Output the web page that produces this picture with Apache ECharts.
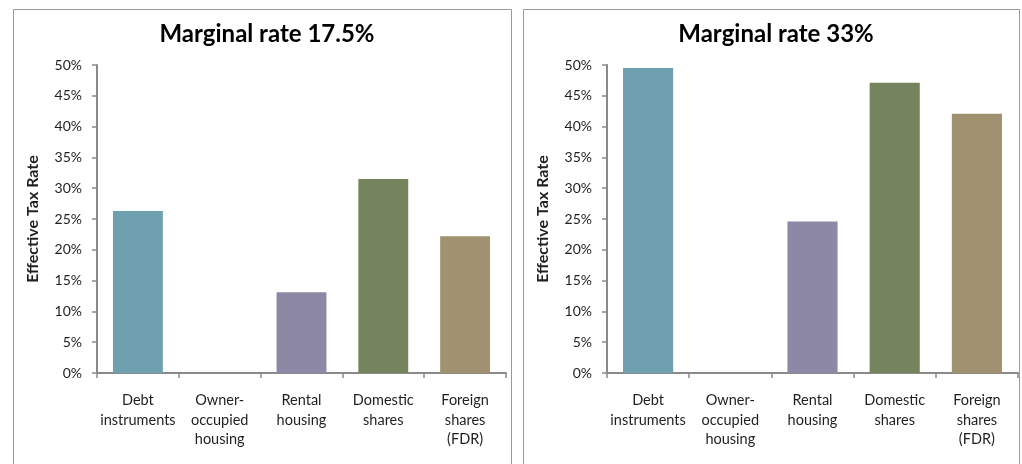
<!DOCTYPE html>
<html>
<head>
<meta charset="utf-8">
<script src="https://cdn.jsdelivr.net/npm/echarts@6/dist/echarts.min.js"></script>
<style>
  html, body { margin: 0; padding: 0; background: #fff; }
  #chart { width: 1022px; height: 464px; }
</style>
</head>
<body>
<div id="chart"></div>
<script>
// Asset classes along the x axis
const categories = ['Debt\ninstruments', 'Owner-\noccupied\nhousing', 'Rental\nhousing', 'Domestic\nshares', 'Foreign\nshares\n(FDR)'];
// Effective tax rate (%) by asset class, per marginal rate
const rate175Values = [26.3, 0, 13.1, 31.5, 22.2];
const rate33Values = [49.5, 0, 24.6, 47.1, 42.1];
const panelTitles = ['Marginal rate 17.5%', 'Marginal rate 33%'];
const yAxisName = 'Effective Tax Rate';
const yTicks = { min: 0, max: 50, interval: 5 };

const barColors = ['#6fa0b0', '#8c88a6', '#8c88a6', '#76845e', '#a09170'];
const FONT = 'Lato, "Liberation Sans", sans-serif';
const AXIS_GREY = '#8a8a8a';
const TEXT = '#1f1f1f';

const grids = [
  { left: 97, right: 516, top: 65, bottom: 91 },
  { left: 607, right: 4, top: 65, bottom: 91 }
];

function xAxisFor(i) {
  return {
    type: 'category', gridIndex: i, data: categories,
    axisLine: { lineStyle: { color: AXIS_GREY, width: 2 } },
    axisTick: { show: true, length: 5, lineStyle: { color: AXIS_GREY, width: 1.5 } },
    axisLabel: { color: TEXT, fontFamily: FONT, fontSize: 14.5, lineHeight: 19.5, margin: 18, interval: 0 },
    splitLine: { show: false }
  };
}
function yAxisFor(i) {
  return {
    type: 'value', gridIndex: i, min: yTicks.min, max: yTicks.max, interval: yTicks.interval,
    name: yAxisName, nameLocation: 'middle', nameGap: 56, nameRotate: 90,
    nameTextStyle: { color: TEXT, fontFamily: FONT, fontSize: 16, fontWeight: 'bold' },
    axisLine: { show: true, lineStyle: { color: AXIS_GREY, width: 2 } },
    axisTick: { show: true, length: 5, lineStyle: { color: AXIS_GREY, width: 1.5 } },
    axisLabel: { color: TEXT, fontFamily: FONT, fontSize: 14, margin: 15, formatter: '{value}%' },
    splitLine: { show: false }
  };
}
function seriesFor(i, values) {
  return {
    type: 'bar', xAxisIndex: i, yAxisIndex: i, barWidth: '61%',
    data: values.map((v, k) => ({ value: v, itemStyle: { color: barColors[k] } })),
    animation: false
  };
}

const chart = echarts.init(document.getElementById('chart'), null, { renderer: 'canvas' });
chart.setOption({
  animation: false,
  backgroundColor: '#fff',
  title: panelTitles.map((t, i) => ({
    text: t, left: i === 0 ? 262 : 771, top: 17, textAlign: 'center',
    textStyle: { fontFamily: FONT, fontSize: 24, fontWeight: 'bold', color: '#000' }
  })),
  graphic: [
    { type: 'rect', shape: { x: 13.5, y: 9.5, width: 498, height: 470 }, style: { fill: 'none', stroke: '#9a9a9a', lineWidth: 1 }, z: -1 },
    { type: 'rect', shape: { x: 523.5, y: 9.5, width: 496, height: 470 }, style: { fill: 'none', stroke: '#9a9a9a', lineWidth: 1 }, z: -1 }
  ],
  grid: grids,
  xAxis: [xAxisFor(0), xAxisFor(1)],
  yAxis: [yAxisFor(0), yAxisFor(1)],
  series: [seriesFor(0, rate175Values), seriesFor(1, rate33Values)]
});
</script>
</body>
</html>
